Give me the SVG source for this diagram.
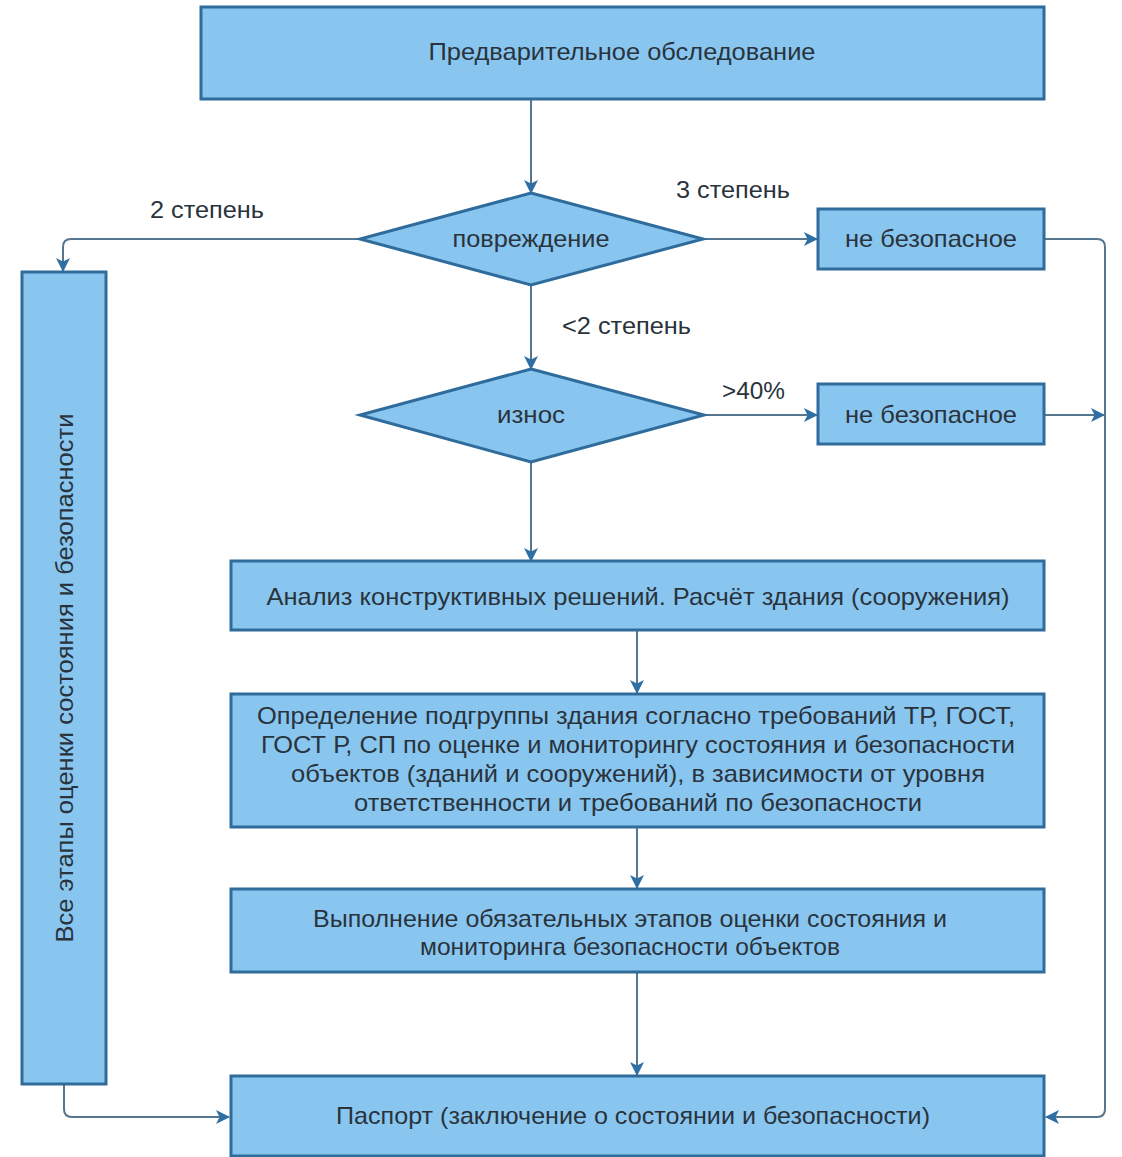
<svg xmlns="http://www.w3.org/2000/svg" width="1122" height="1157" viewBox="0 0 1122 1157">
  <style>
    .box { fill: #88C6F0; stroke: #2F6C9C; stroke-width: 3; }
    .txt { font-family: "Liberation Sans", Arial, sans-serif; font-size: 24px; fill: #2A333C; text-anchor: middle; }
    .lbl { font-family: "Liberation Sans", Arial, sans-serif; font-size: 24px; fill: #2A333C; }
    .wire { fill: none; stroke: #56758F; stroke-width: 2; marker-end: url(#arrow); }
  </style>
  <defs>
    <marker id="arrow" viewBox="0 0 14 14" refX="13" refY="7" markerWidth="14" markerHeight="14" markerUnits="userSpaceOnUse" orient="auto">
      <path d="M0,0 L14,7 L0,14 L3.5,7 Z" fill="#2F6FA3"/>
    </marker>
  </defs>
  <rect width="1122" height="1157" fill="#FFFFFF"/>

  <!-- connectors and their labels -->
  <g id="connectors">
    <path class="wire" d="M531,99 V193"/>
    <path class="wire" d="M358,239 H71 Q63,239 63,247 V271"/>
    <path class="wire" d="M703,239 H817"/>
    <path class="wire" d="M1045,239 H1097 Q1105,239 1105,247 V1109 Q1105,1117 1097,1117 H1046"/>
    <path class="wire" d="M531,285 V369"/>
    <path class="wire" d="M704,415 H817"/>
    <path class="wire" d="M1045,415 H1104"/>
    <path class="wire" d="M531,462 V561"/>
    <path class="wire" d="M637,631 V693"/>
    <path class="wire" d="M637,828 V888"/>
    <path class="wire" d="M637,973 V1075"/>
    <path class="wire" d="M64,1085 V1109 Q64,1117 72,1117 H229"/>
    <text class="lbl" x="150" y="218" textLength="114" lengthAdjust="spacingAndGlyphs">2 степень</text>
    <text class="lbl" x="676" y="198" textLength="114" lengthAdjust="spacingAndGlyphs">3 степень</text>
    <text class="lbl" x="562" y="334" textLength="129" lengthAdjust="spacingAndGlyphs">&lt;2 степень</text>
    <text class="lbl" x="722" y="399" textLength="63" lengthAdjust="spacingAndGlyphs">&gt;40%</text>
  </g>

  <g id="survey">
    <rect class="box" x="201" y="7" width="843" height="92"/>
    <text class="txt" x="622" y="60" textLength="387" lengthAdjust="spacingAndGlyphs">Предварительное обследование</text>
  </g>

  <g id="damage">
    <polygon class="box" points="531,193 703,239 531,285 360,239"/>
    <text class="txt" x="531" y="247" textLength="157" lengthAdjust="spacingAndGlyphs">повреждение</text>
  </g>

  <g id="unsafe-1">
    <rect class="box" x="818" y="209" width="226" height="60"/>
    <text class="txt" x="931" y="247" textLength="172" lengthAdjust="spacingAndGlyphs">не безопасное</text>
  </g>

  <g id="wear">
    <polygon class="box" points="531,369 704,415 531,462 360,415"/>
    <text class="txt" x="531" y="423" textLength="68" lengthAdjust="spacingAndGlyphs">износ</text>
  </g>

  <g id="unsafe-2">
    <rect class="box" x="818" y="384" width="226" height="60"/>
    <text class="txt" x="931" y="423" textLength="172" lengthAdjust="spacingAndGlyphs">не безопасное</text>
  </g>

  <g id="all-stages">
    <rect class="box" x="22" y="272" width="84" height="812"/>
    <text class="txt" transform="translate(73,678) rotate(-90)" x="0" y="0" textLength="529" lengthAdjust="spacingAndGlyphs">Все этапы оценки состояния и безопасности</text>
  </g>

  <g id="analysis">
    <rect class="box" x="231" y="561" width="813" height="69"/>
    <text class="txt" x="638" y="605" textLength="743" lengthAdjust="spacingAndGlyphs">Анализ конструктивных решений. Расчёт здания (сооружения)</text>
  </g>

  <g id="subgroup">
    <rect class="box" x="231" y="694" width="813" height="133"/>
    <text class="txt" x="636" y="724" textLength="758" lengthAdjust="spacingAndGlyphs">Определение подгруппы здания согласно требований ТР, ГОСТ,</text>
    <text class="txt" x="638" y="753" textLength="754" lengthAdjust="spacingAndGlyphs">ГОСТ Р, СП по оценке и мониторингу состояния и безопасности</text>
    <text class="txt" x="638" y="782" textLength="694" lengthAdjust="spacingAndGlyphs">объектов (зданий и сооружений), в зависимости от уровня</text>
    <text class="txt" x="638" y="811" textLength="568" lengthAdjust="spacingAndGlyphs">ответственности и требований по безопасности</text>
  </g>

  <g id="mandatory">
    <rect class="box" x="231" y="889" width="813" height="83"/>
    <text class="txt" x="630" y="927" textLength="634" lengthAdjust="spacingAndGlyphs">Выполнение обязательных этапов оценки состояния и</text>
    <text class="txt" x="630" y="955" textLength="420" lengthAdjust="spacingAndGlyphs">мониторинга безопасности объектов</text>
  </g>

  <g id="passport">
    <rect class="box" x="231" y="1076" width="813" height="80"/>
    <text class="txt" x="633" y="1124" textLength="594" lengthAdjust="spacingAndGlyphs">Паспорт (заключение о состоянии и безопасности)</text>
  </g>
</svg>
